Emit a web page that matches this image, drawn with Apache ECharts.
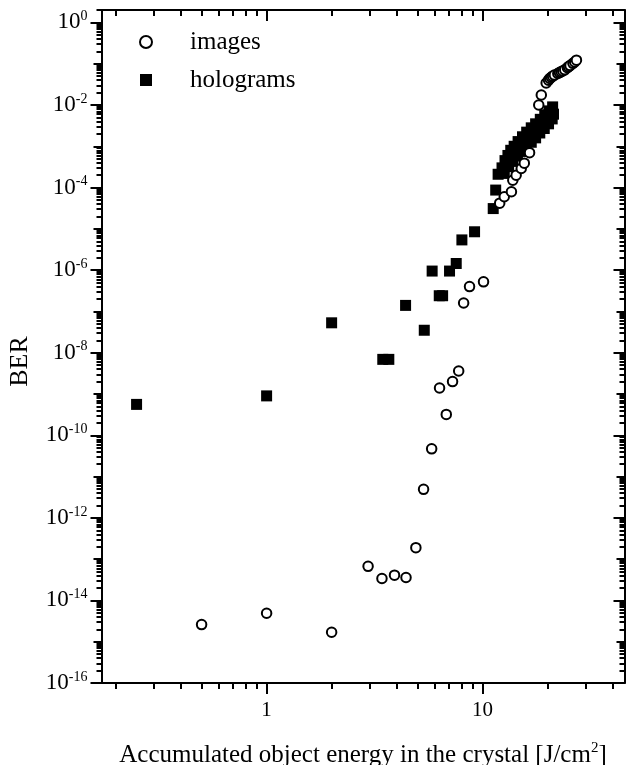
<!DOCTYPE html>
<html><head><meta charset="utf-8">
<script src="https://cdn.jsdelivr.net/npm/echarts@6/dist/echarts.min.js"></script>
<style>html,body{margin:0;padding:0;background:#fff}#c{width:626px;height:765px}</style>
</head><body><div id="c"></div>
<script>
const FONT = 'Liberation Serif';

// ---- data ----
const imagesX = [0.5, 1.0, 2.0, 2.95, 3.42, 3.91, 4.42, 4.91, 5.33, 5.81, 6.32, 6.79, 7.26, 7.75, 8.17, 8.7, 10.1,
  12.0, 12.6, 13.6, 13.8, 14.3, 15.1, 15.6, 16.5, 18.2, 18.7, 19.7, 20.2, 20.5, 20.8, 21.1, 21.5, 22.3, 22.7, 23.1, 23.5, 24.0, 24.7, 25.0, 25.4, 26.2, 26.7, 27.2];
const imagesY = [2.6e-15, 4.9e-15, 1.7e-15, 6.7e-14, 3.4e-14, 4.1e-14, 3.6e-14, 1.9e-13, 4.9e-12, 4.7e-11, 1.4e-9, 3.2e-10, 2.0e-9, 3.6e-9, 1.6e-7, 4.0e-7, 5.2e-7,
  4.2e-5, 6.0e-5, 7.9e-5, 1.5e-4, 2.0e-4, 2.9e-4, 3.9e-4, 7.0e-4, 1.0e-2, 1.75e-2, 0.034, 0.040, 0.044, 0.047, 0.050, 0.053, 0.058, 0.061, 0.064, 0.067, 0.071, 0.080, 0.085, 0.090, 0.102, 0.110, 0.122];

const hologramsX = [0.25, 1.0, 2.0, 3.45, 3.68, 4.40, 5.37, 5.84, 6.30, 6.53, 7.03, 7.55, 8.02, 9.18, 11.2, 11.5, 11.8,
  12.3, 12.7, 13.1, 13.5, 14.0, 14.6, 15.3, 16.0, 16.8, 17.6, 18.5, 19.4, 20.3, 21.1,
  12.6, 13.2, 13.8, 14.5, 15.2, 16.0, 16.8, 17.6, 18.4, 19.3, 20.2, 21.0, 21.3];
const hologramsY = [5.6e-10, 9.0e-10, 5.3e-8, 6.9e-9, 6.9e-9, 1.4e-7, 3.5e-8, 9.5e-7, 2.4e-7, 2.4e-7, 9.5e-7, 1.45e-6, 5.4e-6, 8.5e-6, 3.1e-5, 8.7e-5, 2.1e-4,
  3.0e-4, 4.5e-4, 6.0e-4, 8.0e-4, 1.0e-3, 1.3e-3, 1.7e-3, 2.2e-3, 2.8e-3, 3.5e-3, 4.5e-3, 5.8e-3, 7.2e-3, 9.0e-3,
  2.2e-4, 3.2e-4, 4.3e-4, 5.8e-4, 7.5e-4, 9.8e-4, 1.25e-3, 1.6e-3, 2.1e-3, 2.7e-3, 3.5e-3, 4.6e-3, 6.0e-3];

// ---- axes ----
const xMin = 0.172, xMax = 45.4;
const yMin = 1e-16, yMax = 2;
const xLabelValues = [1, 10];
const xMajorTicks = [1, 10];
const xMinorTicks = [0.2, 0.3, 0.4, 0.5, 0.6, 0.7, 0.8, 0.9, 2, 3, 4, 5, 6, 7, 8, 9, 20, 30, 40];
const yLabelValues = [1, 1e-2, 1e-4, 1e-6, 1e-8, 1e-10, 1e-12, 1e-14, 1e-16];
const yMidTicks = [1e-1, 1e-3, 1e-5, 1e-7, 1e-9, 1e-11, 1e-13, 1e-15];
const yMinorMultipliers = [2, 3, 4, 5, 6, 7, 8, 9];
const yDecadeExponents = [-16, -15, -14, -13, -12, -11, -10, -9, -8, -7, -6, -5, -4, -3, -2, -1, 0];
const yMinorTicks = [];
yDecadeExponents.forEach(e => yMinorMultipliers.forEach(m => {
  const v = Number((m * Math.pow(10, e)).toPrecision(4));
  if (v <= yMax) yMinorTicks.push(v);
}));

const black = '#000';
function tick(values, len, inside) {
  return { show: true, customValues: values, length: len, inside: inside, lineStyle: { color: black, width: 2 } };
}
function xAx(pos, values, len, inside, extra) {
  return Object.assign({
    type: 'log', position: pos, min: xMin, max: xMax,
    axisLine: { show: false, onZero: false },
    axisTick: tick(values, len, inside),
    axisLabel: { show: false },
    splitLine: { show: false }
  }, extra || {});
}
function yAx(pos, values, len, inside, extra) {
  return Object.assign({
    type: 'log', position: pos, min: yMin, max: yMax,
    axisLine: { show: false, onZero: false },
    axisTick: tick(values, len, inside),
    axisLabel: { show: false },
    splitLine: { show: false }
  }, extra || {});
}
const axisLineOn = { show: true, onZero: false, lineStyle: { color: black, width: 2 } };

const option = {
  animation: false,
  backgroundColor: '#fff',
  grid: { left: 101.5, right: 1.5, top: 10, bottom: 82, containLabel: false, outerBoundsMode: 'none' },
  legend: {
    data: ['images', 'holograms'],
    orient: 'vertical', left: 134, top: 24,
    itemWidth: 12, itemHeight: 12, itemGap: 12,
    textStyle: { fontFamily: FONT, fontSize: 25, color: black, lineHeight: 26, padding: [0, 0, 0, 33] }
  },
  xAxis: [
    xAx('bottom', xMajorTicks, 11, false, {
      axisLine: axisLineOn,
      axisLabel: { show: true, customValues: xLabelValues, margin: 17, fontFamily: FONT, fontSize: 21, color: black, formatter: v => String(v) },
      name: '{t|Accumulated object energy in the crystal [J/cm}{s|2}{t|]}',
      nameLocation: 'middle', nameGap: 58,
      nameTextStyle: { rich: {
        t: { fontFamily: FONT, fontSize: 25, color: black, lineHeight: 28 },
        s: { fontFamily: FONT, fontSize: 15, color: black, lineHeight: 16, verticalAlign: 'top' }
      } }
    }),
    xAx('bottom', xMinorTicks, 6, false),
    xAx('top', xMajorTicks, 11, true, { axisLine: axisLineOn }),
    xAx('top', xMinorTicks, 6, true)
  ],
  yAxis: [
    yAx('left', yLabelValues, 11, false, {
      axisLine: axisLineOn,
      axisLabel: {
        show: true, customValues: yLabelValues, margin: 14,
        formatter: v => '{b|10}{s|' + Math.round(Math.log10(v)) + '}',
        rich: {
          b: { fontFamily: FONT, fontSize: 23, color: black, lineHeight: 26 },
          s: { fontFamily: FONT, fontSize: 14, color: black, lineHeight: 15, verticalAlign: 'top' }
        }
      },
      name: 'BER', nameLocation: 'middle', nameGap: 68,
      nameTextStyle: { fontFamily: FONT, fontSize: 26, color: black, padding: [0, 30, 0, 0] }
    }),
    yAx('left', yMidTicks, 8, false),
    yAx('left', yMinorTicks, 5, false),
    yAx('right', yLabelValues, 11, true, { axisLine: axisLineOn }),
    yAx('right', yMidTicks, 8, true),
    yAx('right', yMinorTicks, 5, true)
  ],
  series: [
    {
      name: 'holograms', type: 'scatter', xAxisIndex: 0, yAxisIndex: 0,
      symbol: 'rect', symbolSize: 11,
      itemStyle: { color: black, opacity: 1 },
      data: hologramsX.map((x, i) => [x, hologramsY[i]])
    },
    {
      name: 'images', type: 'scatter', xAxisIndex: 0, yAxisIndex: 0,
      symbol: 'circle', symbolSize: 9.5,
      itemStyle: { color: '#fff', borderColor: black, borderWidth: 2, opacity: 1 },
      data: imagesX.map((x, i) => [x, imagesY[i]])
    }
  ]
};
const chart = echarts.init(document.getElementById('c'), null, { renderer: 'canvas' });
chart.setOption(option);
</script></body></html>
